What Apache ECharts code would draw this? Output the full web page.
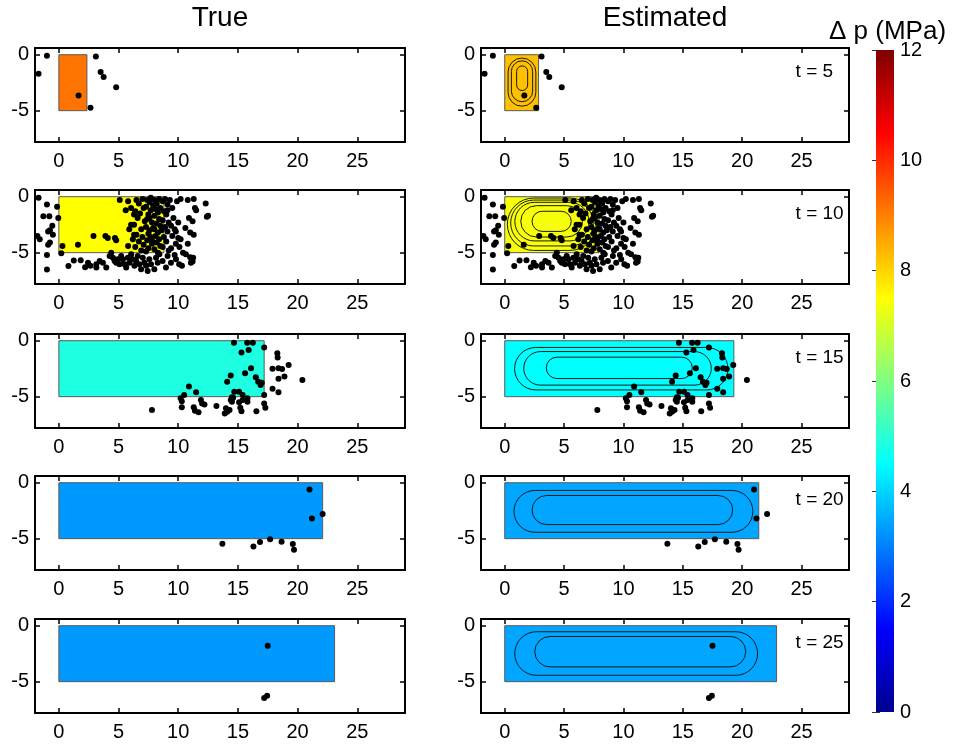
<!DOCTYPE html>
<html>
<head>
<meta charset="utf-8">
<script src="https://cdn.jsdelivr.net/npm/echarts@6/dist/echarts.min.js"></script>
<style>
  html, body { margin: 0; padding: 0; background: #fff; }
  #main { width: 957px; height: 745px; }
</style>
</head>
<body>
<div id="main"></div>
<script>
// ---- data ------------------------------------------------------------
const times = [5, 10, 15, 20, 25];
const columnTitles = ['True', 'Estimated'];
const xTicks = [0, 5, 10, 15, 20, 25];
const yTicks = [-5, 0];
const cbTicks = [0, 2, 4, 6, 8, 10, 12];

// pressurised zone per time step: [xLeft, xRight, yTop, yBottom, dp (MPa)]
const trueZone = [
  [0, 2.35, 0, -5, 9.15],
  [0, 8.8, 0, -5, 7.5],
  [0, 17.2, 0, -5, 4.85],
  [0, 22.1, 0, -5, 3.3],
  [0, 23.1, 0, -5, 3.3]
];
const estZone = [
  [0, 2.85, 0, -5, 8.25],
  [0, 7.95, 0, -5, 7.4],
  [0, 19.3, 0, -5, 4.5],
  [0, 21.4, 0, -5, 3.45],
  [0, 22.9, 0, -5, 3.45]
];

// contour rings of the estimated pressure field: [xLeft, xRight, yTop, yBottom]
const contoursT5 = [
  [1.0, 1.93, -1.0, -3.2],
  [0.56, 2.35, -0.55, -4.2],
  [0.28, 2.62, -0.3, -4.6]
];
const contoursT10 = [
  [2.3, 5.6, -1.3, -3.1],
  [1.35, 6.55, -0.8, -3.6],
  [0.85, 7.1, -0.5, -3.95],
  [0.5, 7.45, -0.3, -4.4],
  [0.22, 7.7, -0.12, -4.8]
];
const contoursT15 = [
  [3.5, 15.8, -1.47, -3.38],
  [1.6, 17.4, -0.97, -3.97],
  [0.83, 18.8, -0.6, -4.4]
];
const contoursT20 = [
  [2.3, 19.2, -1.14, -3.74],
  [0.78, 20.9, -0.69, -4.43]
];
const contoursT25 = [
  [2.53, 20.3, -0.96, -3.68],
  [0.84, 21.3, -0.54, -4.43]
];

// located microseismic events [x (km), depth (km)]
const eventsT5 = [
  [-1.0, -0.1], [-1.7, -1.7], [3.1, -0.15], [3.5, -1.55], [3.75, -2.0],
  [4.8, -2.9], [1.65, -3.65], [2.65, -4.75]
];
const eventsT10 = [
  // west of the injection zone
  [-1.7, -0.1], [-1.0, -0.7], [-0.15, -0.9], [-1.3, -1.75], [-0.8, -1.75],
  [-0.05, -1.9], [-0.55, -2.6], [-0.75, -3.0], [-0.9, -3.1], [-1.8, -3.5],
  [-1.6, -3.8], [-0.5, -3.4], [-0.75, -4.1], [-0.9, -4.3], [0.3, -4.4],
  [-1.0, -5.2], [0.2, -5.05], [-1.0, -6.5],
  // inside the zone
  [1.6, -4.3], [2.9, -3.5], [3.9, -3.5], [4.1, -3.7], [4.7, -3.7], [4.8, -3.9],
  [5.1, -0.3], [5.8, -0.4], [6.05, -1.0], [6.3, -1.6], [5.6, -1.2], [6.05, -2.5],
  [5.9, -2.9], [6.2, -3.8], [6.3, -3.4], [5.8, -4.4],
  // dense front
  [6.5, -0.3], [6.7, -0.6], [6.4, -1.3], [6.6, -1.9], [6.8, -1.5], [6.3, -2.5],
  [6.9, -2.9], [6.5, -3.4], [6.7, -4.0], [6.4, -4.5], [6.9, -4.8], [7.0, -0.2],
  [7.1, -1.0], [7.2, -2.2], [7.0, -3.6], [7.1, -4.3],
  [7.4, -0.3], [7.6, -0.5], [7.3, -0.9], [7.7, -1.2], [7.5, -1.6], [7.4, -2.0],
  [7.8, -2.3], [7.3, -2.7], [7.6, -3.0], [7.5, -3.3], [7.7, -3.6], [7.4, -3.9],
  [7.8, -4.2], [7.5, -4.6], [7.3, -4.9], [7.7, -0.1], [7.9, -0.8], [7.6, -1.9],
  [7.9, -2.8], [7.8, -3.9],
  [8.0, -0.3], [8.2, -0.6], [8.4, -0.2], [8.1, -1.1], [8.3, -1.4], [8.0, -1.7],
  [8.4, -2.0], [8.2, -2.4], [8.5, -2.6], [8.0, -2.9], [8.3, -3.2], [8.1, -3.5],
  [8.4, -3.8], [8.2, -4.1], [8.5, -4.4], [8.0, -4.7], [8.3, -5.0], [8.5, -1.0],
  [8.6, -3.0],
  [8.7, -0.4], [8.9, -0.2], [9.1, -0.7], [8.8, -1.3], [9.0, -1.6], [8.7, -2.1],
  [9.2, -2.3], [8.9, -2.7], [9.1, -3.1], [8.8, -3.6], [9.0, -4.0], [8.7, -4.5],
  [9.2, -4.8], [9.1, -1.2], [9.3, -0.3],
  [9.5, -1.0], [9.6, -1.9], [9.4, -2.6], [9.7, -2.9], [9.5, -3.5], [9.8, -4.2],
  [9.4, -4.6], [9.9, -0.4], [10.0, -2.3], [9.7, -5.2],
  // east of the front
  [10.2, -0.2], [10.8, -0.3], [11.3, -0.2], [11.4, -1.0], [11.5, -1.2], [10.9, -1.9],
  [11.2, -2.2], [10.6, -2.8], [11.0, -3.2], [11.3, -3.4], [10.2, -3.8], [10.8, -4.2],
  [10.1, -4.5], [12.3, -0.6], [12.4, -1.8], [12.5, -1.7], [9.8, -3.1], [10.0, -3.7],
  [10.4, -5.0], [11.0, -5.4], [11.2, -5.8],
  // below the zone
  [0.8, -6.2], [1.25, -5.7], [1.83, -5.68], [2.2, -6.3], [2.44, -5.89], [2.64, -6.18],
  [3.14, -6.04], [3.14, -6.33], [3.42, -5.74], [3.69, -5.89], [3.97, -6.33], [4.25, -5.3],
  [4.39, -5.0], [4.53, -5.45], [4.67, -5.74], [4.81, -5.89], [4.94, -5.59], [5.08, -6.04],
  [5.22, -5.3], [5.36, -5.59], [5.5, -6.04], [5.64, -6.33], [5.78, -5.45], [5.92, -5.89],
  [6.06, -5.15], [6.19, -5.59], [6.33, -6.18], [6.47, -5.74], [6.61, -5.3], [6.75, -6.04],
  [6.89, -6.48], [7.03, -5.45], [7.17, -5.89], [7.31, -6.18], [7.44, -6.63], [7.58, -5.59],
  [7.72, -6.04], [8.0, -6.48], [8.14, -5.45], [8.28, -5.89], [8.42, -5.15], [8.69, -5.74],
  [8.97, -6.33], [9.11, -5.3], [9.39, -5.89], [9.81, -5.59], [10.08, -6.04], [10.31, -6.18],
  [10.64, -5.15], [11.06, -5.89], [11.25, -5.45]
];
const eventsT15 = [
  [14.67, -0.18], [15.78, -0.18], [16.25, -0.18], [15.3, -1.05], [15.9, -0.83],
  [17.2, -0.6], [18.3, -1.13], [18.33, -1.5], [19.25, -2.17], [17.9, -2.5],
  [18.4, -2.47], [18.7, -2.53], [16.1, -2.47], [15.6, -2.9], [18.9, -3.2],
  [18.4, -3.4], [20.4, -3.5], [14.4, -3.1], [14.1, -3.66], [16.5, -3.27],
  [16.7, -3.66], [16.9, -3.96], [17.0, -3.75], [17.9, -4.3], [18.4, -4.6],
  [10.9, -4.1], [11.5, -4.6], [10.5, -4.85], [10.2, -5.15], [10.3, -5.4],
  [11.9, -5.3], [12.0, -5.6], [12.2, -5.7], [10.3, -5.95], [11.3, -5.95],
  [11.4, -6.25], [11.7, -6.4], [13.2, -5.83], [7.8, -6.2], [14.0, -6.04],
  [14.1, -6.34], [14.3, -6.2], [13.9, -6.5], [14.5, -5.45], [14.5, -5.06],
  [14.7, -4.55], [14.6, -5.1], [14.4, -5.3], [15.1, -4.55], [15.4, -4.85],
  [15.4, -5.3], [15.1, -5.5], [15.2, -6.0], [15.3, -6.3], [15.8, -5.15],
  [15.8, -5.45], [16.55, -6.3], [17.2, -4.85], [17.2, -5.6], [17.3, -6.0]
];
const eventsT20 = [
  [21.0, -0.6], [21.2, -3.2], [22.1, -2.8], [13.7, -5.45], [16.3, -5.7],
  [16.85, -5.3], [17.7, -5.06], [18.66, -5.27], [19.6, -5.48], [19.7, -6.0]
];
const eventsT25 = [
  [17.5, -1.8], [17.2, -6.45], [17.45, -6.25]
];

const events = [eventsT5, eventsT10, eventsT15, eventsT20, eventsT25];
const contours = [contoursT5, contoursT10, contoursT15, contoursT20, contoursT25];

// ---- layout / style ---------------------------------------------------
const FONT = "'Liberation Sans', Arial, Helvetica, sans-serif";
const colLeft = [35, 481];
const colWidth = [370, 368];
const rowTop = [48, 190, 334, 476, 619];
const rowHeight = 94;
const X_RANGE = [-2, 29];
const Y_RANGE = [-7.8, 0.6];

// jet colour map, sampled at eighths
const jet = ['#00008F', '#0000FF', '#0080FF', '#00FFFF', '#80FF80',
             '#FFFF00', '#FF8000', '#FF0000', '#800000'];

const grids = [], xAxes = [], yAxes = [], series = [];
const boxSeriesIdx = [];

function frameAxes(g) {
  const tickStyle = { inside: true, length: 5, lineStyle: { color: '#000', width: 1.5 } };
  const lineStyle = { show: true, onZero: false, lineStyle: { color: '#000', width: 2 } };
  xAxes.push({
    gridIndex: g, type: 'value', min: X_RANGE[0], max: X_RANGE[1], position: 'bottom',
    axisLine: lineStyle,
    axisTick: Object.assign({ customValues: xTicks }, tickStyle),
    axisLabel: { customValues: xTicks, fontSize: 20, color: '#000', margin: 9, fontFamily: FONT },
    splitLine: { show: false }
  });
  xAxes.push({
    gridIndex: g, type: 'value', min: X_RANGE[0], max: X_RANGE[1], position: 'top',
    axisLine: lineStyle,
    axisTick: Object.assign({ customValues: xTicks }, tickStyle),
    axisLabel: { show: false }, splitLine: { show: false }
  });
  yAxes.push({
    gridIndex: g, type: 'value', min: Y_RANGE[0], max: Y_RANGE[1], position: 'left',
    axisLine: lineStyle,
    axisTick: Object.assign({ customValues: yTicks }, tickStyle),
    axisLabel: { customValues: yTicks, fontSize: 20, color: '#000', margin: 6, fontFamily: FONT },
    splitLine: { show: false }
  });
  yAxes.push({
    gridIndex: g, type: 'value', min: Y_RANGE[0], max: Y_RANGE[1], position: 'right',
    axisLine: lineStyle,
    axisTick: Object.assign({ customValues: yTicks }, tickStyle),
    axisLabel: { show: false }, splitLine: { show: false }
  });
}

function renderBox(params, api) {
  const p0 = api.coord([api.value(0), api.value(2)]);
  const p1 = api.coord([api.value(1), api.value(3)]);
  return {
    type: 'rect',
    shape: { x: p0[0], y: p0[1], width: p1[0] - p0[0], height: p1[1] - p0[1] },
    style: { fill: api.visual('color'), stroke: '#5a5a5a', lineWidth: 1 }
  };
}

function renderRing(params, api) {
  const p0 = api.coord([api.value(0), api.value(2)]);
  const p1 = api.coord([api.value(1), api.value(3)]);
  const w = p1[0] - p0[0], h = p1[1] - p0[1];
  return {
    type: 'rect',
    shape: { x: p0[0], y: p0[1], width: w, height: h, r: Math.min(w, h) * 0.5 },
    style: { fill: null, stroke: '#1a1a1a', lineWidth: 1 }
  };
}

function renderTimeLabel(params, api) {
  const p = api.coord([24.5, -1.5]);
  return {
    type: 'text', x: p[0], y: p[1],
    style: { text: 't = ' + api.value(0), fill: '#000', fontSize: 19, fontFamily: FONT,
             align: 'left', verticalAlign: 'middle' }
  };
}

for (let r = 0; r < times.length; r++) {
  for (let c = 0; c < 2; c++) {
    const g = grids.length;
    grids.push({ left: colLeft[c], top: rowTop[r], width: colWidth[c], height: rowHeight, containLabel: false });
    frameAxes(g);
    const ax = { xAxisIndex: 2 * g, yAxisIndex: 2 * g };
    const zone = c === 0 ? trueZone[r] : estZone[r];
    boxSeriesIdx.push(series.length);
    series.push(Object.assign({
      type: 'custom', renderItem: renderBox, data: [zone], silent: true, z: 1
    }, ax));
    if (c === 1) {
      series.push(Object.assign({
        type: 'custom', renderItem: renderRing, data: contours[r], silent: true, z: 2
      }, ax));
      series.push(Object.assign({
        type: 'custom', renderItem: renderTimeLabel, data: [[times[r]]], silent: true, z: 4,
        clip: false
      }, ax));
    }
    series.push(Object.assign({
      type: 'scatter', data: events[r], symbol: 'circle', symbolSize: 6,
      itemStyle: { color: '#000', opacity: 1 }, silent: true, z: 3
    }, ax));
  }
}

// colour bar
const cbGrid = grids.length;
grids.push({ left: 876, top: 50, width: 18, height: 662 });
xAxes.push({ gridIndex: cbGrid, type: 'value', min: 0, max: 1, show: false });
xAxes.push({ gridIndex: cbGrid, type: 'value', min: 0, max: 1, show: false });
yAxes.push({
  gridIndex: cbGrid, type: 'value', min: 0, max: 12, interval: 2, position: 'right',
  axisLine: { show: false },
  axisTick: { show: true, inside: true, length: 4, lineStyle: { color: '#333', width: 1 } },
  axisLabel: { fontSize: 20, color: '#000', margin: 6, fontFamily: FONT },
  splitLine: { show: false }
});
yAxes.push({
  gridIndex: cbGrid, type: 'value', min: 0, max: 12, interval: 2, position: 'left',
  axisLine: { show: false },
  axisTick: { show: true, inside: true, length: 4, lineStyle: { color: '#333', width: 1 } },
  axisLabel: { show: false }, splitLine: { show: false }
});
series.push({
  type: 'custom', xAxisIndex: 2 * cbGrid, yAxisIndex: 2 * cbGrid, silent: true,
  data: [[0, 1, cbTicks[0], cbTicks[cbTicks.length - 1]]],
  renderItem: function (params, api) {
    const p0 = api.coord([api.value(0), api.value(3)]);
    const p1 = api.coord([api.value(1), api.value(2)]);
    const stops = jet.map((col, i) => ({ offset: i / (jet.length - 1), color: col }));
    return {
      type: 'rect',
      shape: { x: p0[0], y: p0[1], width: p1[0] - p0[0], height: p1[1] - p0[1] },
      style: { fill: new echarts.graphic.LinearGradient(0, 1, 0, 0, stops) }
    };
  }
});

const chart = echarts.init(document.getElementById('main'), null, { renderer: 'canvas' });
chart.setOption({
  animation: false,
  backgroundColor: '#fff',
  grid: grids,
  xAxis: xAxes,
  yAxis: yAxes,
  visualMap: {
    show: false, type: 'continuous', min: 0, max: 12, dimension: 4,
    seriesIndex: boxSeriesIdx, inRange: { color: jet }
  },
  graphic: [
    { type: 'text', x: colLeft[0] + colWidth[0] / 2, y: 18,
      style: { text: columnTitles[0], fontSize: 28, fontFamily: FONT, fill: '#000', align: 'center', verticalAlign: 'middle' } },
    { type: 'text', x: colLeft[1] + colWidth[1] / 2, y: 18,
      style: { text: columnTitles[1], fontSize: 28, fontFamily: FONT, fill: '#000', align: 'center', verticalAlign: 'middle' } },
    { type: 'text', x: 829, y: 32,
      style: { text: 'Δ p (MPa)', fontSize: 26, fontFamily: FONT, fill: '#000', align: 'left', verticalAlign: 'middle' } }
  ],
  series: series
});
</script>
</body>
</html>
